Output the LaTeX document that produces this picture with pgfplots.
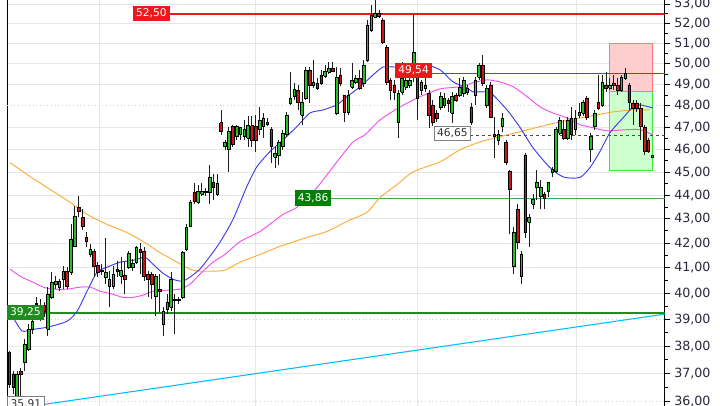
\documentclass[border=0pt]{standalone}
\usepackage{fontspec}
\setmainfont{DejaVu Sans}
\usepackage{pgfplots}
\usepackage{pgfplotstable}
\pgfplotsset{compat=1.18}

\definecolor{candleup}{RGB}{40,190,40}
\definecolor{candledown}{RGB}{200,25,25}
\definecolor{wickc}{RGB}{30,30,30}
\definecolor{gridc}{RGB}{230,230,230}
\definecolor{gridd}{RGB}{205,205,205}
\definecolor{ma1}{RGB}{60,60,235}
\definecolor{ma2}{RGB}{240,80,240}
\definecolor{ma3}{RGB}{255,170,50}
\definecolor{lvlred}{RGB}{235,25,25}
\definecolor{lvlgreen}{RGB}{30,140,30}
\definecolor{lvlgreen2}{RGB}{70,165,70}
\definecolor{boxgreen}{RGB}{0,128,0}
\definecolor{cyanline}{RGB}{0,190,250}
\definecolor{tickc}{RGB}{40,40,60}
\definecolor{tgtred}{RGB}{255,205,205}
\definecolor{tgtredb}{RGB}{255,120,120}
\definecolor{tgtgreen}{RGB}{205,255,205}
\definecolor{tgtgreenb}{RGB}{60,230,60}

% daily candles, one row per session (open high low close)
\pgfplotstableread{
o h l c
37.78 37.82 36.49 36.63
36.99 37.09 36.28 36.52
36.17 37.09 35.91 36.99
37.09 37.20 36.17 36.99
37.42 38.26 37.09 38.07
37.89 38.82 37.82 38.63
38.63 39.31 38.45 38.93
39.58 39.85 39.31 39.62
39.08 39.77 38.93 39.54
39.54 39.66 39.08 39.31
38.63 40.24 38.37 39.97
39.85 40.83 39.77 40.43
40.35 40.67 40.16 40.47
40.24 40.55 40.08 40.47
40.55 41.07 40.16 40.87
40.87 41.03 40.16 40.28
40.83 42.77 40.71 42.15
41.87 43.53 41.83 43.11
43.49 43.95 43.07 43.32
43.07 43.40 42.56 42.69
42.23 42.44 41.83 42.07
41.54 41.95 41.42 41.75
41.67 41.75 40.63 41.07
41.11 41.23 40.63 40.83
40.91 41.15 40.71 40.87
40.63 42.23 40.35 40.83
40.28 40.87 39.47 40.55
40.28 41.07 40.16 40.75
40.95 41.26 40.63 40.87
40.67 41.42 40.35 40.91
40.71 41.23 39.97 40.55
41.03 41.67 40.95 41.58
41.03 41.34 40.87 41.19
41.23 41.87 41.15 41.83
41.75 41.99 40.75 41.62
41.67 41.83 40.47 40.67
40.75 40.87 39.85 40.55
40.75 40.83 39.77 40.35
39.89 40.75 39.12 40.67
40.16 40.75 39.27 40.08
38.82 39.47 38.37 39.31
39.39 39.97 39.20 39.66
39.47 40.83 39.31 40.55
39.77 39.97 38.45 39.73
39.77 39.85 39.58 39.73
39.85 41.67 39.77 41.62
41.75 42.77 41.67 42.65
42.69 43.82 42.65 43.70
44.12 44.51 43.65 43.74
43.70 44.46 43.61 44.16
44.04 44.51 43.99 44.16
44.12 44.33 43.99 44.16
44.12 45.33 43.61 44.77
44.55 44.90 43.82 44.33
44.04 44.90 43.95 44.51
47.22 47.81 46.67 46.81
46.13 46.44 46.00 46.31
46.00 47.04 45.02 46.81
47.04 47.13 46.13 46.22
46.58 47.13 46.44 47.04
46.67 47.04 46.44 46.99
46.58 47.35 46.44 46.90
46.53 47.53 46.13 47.08
47.08 47.53 46.13 46.44
47.04 47.58 45.91 46.44
46.90 47.95 46.67 47.35
47.04 47.67 46.53 47.44
47.17 47.44 47.08 47.22
46.90 47.04 45.42 46.13
45.68 46.13 45.20 45.82
45.77 46.44 45.33 46.31
46.13 46.90 46.00 46.76
46.67 47.72 46.58 47.58
48.14 49.61 48.05 48.38
48.43 49.09 48.28 48.80
48.75 48.99 47.81 48.19
47.58 48.66 47.13 48.19
48.38 49.85 48.28 49.71
49.71 49.85 48.14 48.99
48.99 50.19 48.85 49.13
49.09 49.33 48.75 48.85
49.47 49.71 48.99 49.09
49.42 49.95 49.33 49.66
49.61 50.09 49.52 49.80
49.80 50.09 49.61 49.66
47.67 49.85 47.58 49.37
49.47 49.80 48.95 49.09
48.52 48.52 47.26 47.72
47.72 48.75 47.58 48.52
48.90 50.05 48.80 49.23
49.13 49.47 49.04 49.33
49.33 49.71 48.75 48.85
49.09 50.19 48.90 49.95
50.19 52.18 50.09 51.93
51.68 52.95 51.58 52.44
52.33 53.21 52.28 52.54
52.54 52.69 52.28 52.38
52.18 52.28 50.98 51.08
50.83 50.93 48.99 49.13
49.23 49.33 48.28 48.75
48.99 49.23 48.28 48.66
47.22 48.75 46.53 48.61
48.66 50.09 48.52 49.33
48.90 49.47 48.75 49.23
48.99 49.71 48.85 49.23
49.95 52.49 49.13 50.58
49.61 50.05 47.35 48.38
48.75 49.23 48.52 49.13
48.85 49.33 48.66 48.99
48.61 48.75 46.99 47.58
48.05 48.28 47.08 47.26
47.67 47.81 47.26 47.44
47.95 48.66 47.81 48.43
48.05 48.61 47.90 48.38
48.24 48.38 47.72 48.14
47.67 48.66 47.22 48.43
48.52 48.61 48.19 48.28
48.52 49.33 48.43 48.90
48.61 49.37 48.43 49.23
48.66 48.99 48.52 48.85
47.95 48.14 47.13 47.22
48.52 49.37 48.05 49.23
49.37 50.05 49.23 49.95
49.95 50.44 48.95 49.09
48.05 48.99 47.90 48.85
48.99 49.13 47.44 47.49
46.67 47.49 45.64 46.58
46.44 46.90 46.22 46.67
47.04 47.67 46.81 47.44
46.35 46.44 45.33 45.46
45.02 45.11 42.36 44.25
41.07 42.65 40.75 42.44
43.40 43.61 41.75 42.03
40.67 41.67 40.35 41.54
45.77 45.86 42.23 42.44
42.86 43.19 41.83 43.07
43.61 44.04 43.40 43.82
44.33 45.11 43.82 44.55
43.95 44.68 43.40 44.33
44.04 44.16 43.40 43.86
44.16 44.59 43.91 44.55
44.98 45.24 44.77 45.11
45.02 47.04 44.98 46.90
46.76 47.49 46.67 47.35
46.90 47.35 46.44 46.53
46.53 47.49 46.44 47.35
47.44 47.95 46.44 46.67
46.90 47.81 46.67 47.44
47.58 48.14 47.44 47.72
47.67 48.28 47.53 48.19
48.38 48.47 47.35 47.49
46.00 46.76 45.46 46.58
47.04 47.81 46.90 47.67
48.19 49.47 47.81 47.90
48.05 49.47 47.95 49.13
48.99 49.61 48.66 48.85
48.85 49.33 48.75 48.99
49.09 49.47 48.75 48.99
48.99 49.33 48.52 48.75
48.75 49.47 48.66 49.37
49.33 49.80 49.23 49.56
48.99 49.09 47.81 48.19
48.14 48.28 47.13 47.90
48.14 48.28 47.72 47.90
47.90 48.14 46.44 47.04
46.99 47.13 45.77 45.91
46.44 46.53 45.86 45.91
45.68 45.77 45.64 45.73
}\candles

\tikzset{
  lvlbox/.style={font=\fontsize{8}{9}\selectfont, inner sep=0pt,
    minimum width=27.5pt, minimum height=11.5pt},
}

\begin{document}
\begin{tikzpicture}
\begin{axis}[
  scale only axis,
  width=493.1pt, height=315pt,
  xmin=-0.6, xmax=170.2,
  ymode=log, ymin=35.64, ymax=53.63,
  axis line style={black, line width=0.75pt},
  xtick={23.4,64,106.1,147.4},
  xticklabels={},
  x tick style={draw=none},
  xmajorgrids, ymajorgrids,
  major grid style={gridc, line width=0.75pt},
  ytick={37,38,40,41,42,43,44,45,46,47,49,50,51,52,53},
  yticklabels={{37,00},{38,00},{40,00},{41,00},{42,00},{43,00},{44,00},{45,00},{46,00},{47,00},{49,00},{50,00},{51,00},{52,00},{53,00}},
  extra y ticks={36,39,48},
  extra y tick labels={{36,00},{39,00},{48,00}},
  extra y tick style={major grid style={gridd, dotted, line width=0.75pt}},
  minor ytick={35.5,36.5,37.5,38.5,39.5,40.5,41.5,42.5,43.5,44.5,45.5,46.5,47.5,48.5,49.5,50.5,51.5,52.5,53.5},
  ytick pos=right, yticklabel pos=right,
  tick align=outside,
  major tick length=3.75pt, minor tick length=2.25pt,
  y tick style={black, line width=0.75pt},
  yticklabel style={font=\fontsize{9.5}{11}\selectfont, text=tickc},
]

% target / stop zones
\addplot[fill=tgtred, draw=tgtredb, line width=0.75pt] coordinates {(155.8,48.67) (167.0,48.67) (167.0,51.0) (155.8,51.0) (155.8,48.67)};
\addplot[fill=tgtgreen, draw=tgtgreenb, line width=0.75pt] coordinates {(155.8,45.08) (167.0,45.08) (167.0,48.67) (155.8,48.67) (155.8,45.08)};

% horizontal levels and trend line
\addplot[lvlred, line width=1.6pt] coordinates {(41.7,52.5) (170.2,52.5)};
\addplot[lvlred, line width=0.75pt] coordinates {(109.8,49.54) (170.2,49.54)};
\addplot[lvlgreen2, line width=0.75pt] coordinates {(83.6,43.86) (170.2,43.86)};
\addplot[lvlgreen, line width=1.8pt] coordinates {(9.0,39.25) (170.2,39.25)};
\addplot[black!70, dash pattern=on 2.25pt off 2.25pt, line width=0.75pt] coordinates {(119.7,46.65) (170.2,46.65)};
\addplot[cyanline, line width=0.8pt] coordinates {(9.3,35.91) (170.2,39.2)};

% moving averages
\addplot[ma3, line width=0.7pt, smooth, tension=0.4] coordinates {
(0.2,45.42) (5.4,44.81) (10.6,44.25) (15.8,43.70) (20.2,43.19) (25.4,42.77) (30.5,42.44) (34.7,42.07) (39.1,41.62) (43.6,41.23) (46.9,40.95) (49.5,40.87) (52.9,40.87) (56.0,40.91) (60.0,41.23) (65.1,41.54) (70.3,41.87) (77.3,42.23) (82.5,42.48) (87.7,42.90) (92.9,43.28) (96.3,43.91) (100.7,44.46) (104.9,45.02) (111.9,45.46) (117.1,46.00) (122.3,46.35) (127.4,46.58) (132.7,46.81) (137.9,47.04) (143.0,47.26) (148.2,47.44) (152.7,47.58) (156.8,47.72) (162.0,47.81) (166.4,47.81)};
\addplot[ma2, line width=0.7pt, smooth, tension=0.4] coordinates {
(0.2,40.95) (2.8,40.67) (6.2,40.43) (8.8,40.24) (11.4,40.16) (15.0,40.16) (18.4,40.24) (21.0,40.24) (23.6,40.08) (26.9,39.97) (29.5,39.85) (32.1,39.85) (34.7,39.93) (37.3,40.08) (41.0,40.12) (44.3,40.16) (46.9,40.35) (49.5,40.75) (52.9,41.23) (56.0,41.54) (60.0,42.07) (65.1,42.48) (71.1,43.19) (74.7,43.49) (79.9,44.33) (85.1,45.46) (89.3,46.35) (92.4,46.67) (96.3,47.35) (101.5,47.95) (106.7,48.43) (111.9,48.80) (117.1,48.90) (120.4,49.09) (124.1,49.23) (127.4,49.13) (130.9,48.90) (134.5,48.43) (137.9,47.95) (141.2,47.67) (144.9,47.44) (148.2,47.13) (151.6,46.99) (155.2,46.85) (160.4,46.90) (163.8,46.90) (167.2,46.67)};
\addplot[ma1, line width=0.7pt, smooth, tension=0.4] coordinates {
(1.0,39.08) (3.3,38.56) (6.2,38.63) (10.1,38.71) (15.0,38.93) (17.6,39.31) (20.2,40.08) (22.8,40.83) (25.4,41.03) (28.8,41.23) (32.1,41.30) (35.3,41.42) (37.3,41.15) (39.9,40.79) (42.5,40.55) (44.9,40.47) (46.9,40.63) (49.5,40.95) (52.1,41.46) (54.7,42.03) (58.1,42.98) (61.7,44.38) (64.3,45.24) (67.7,45.91) (71.1,46.44) (74.7,47.04) (78.1,47.67) (81.5,47.81) (85.1,48.05) (87.7,48.43) (91.1,48.90) (94.5,49.47) (97.1,49.85) (100.7,49.85) (104.1,49.95) (108.5,49.95) (111.9,49.71) (115.3,49.13) (118.9,48.85) (120.4,48.66) (124.1,48.66) (125.6,48.52) (129.3,47.81) (132.7,46.99) (136.0,46.09) (139.7,45.33) (141.7,45.02) (144.3,44.77) (148.2,44.77) (150.8,45.20) (153.4,45.91) (156.0,46.76) (159.4,47.44) (162.0,47.95) (163.8,48.05) (167.2,47.90)};

% candles
\pgfplotstablegetrowsof{\candles}
\pgfmathtruncatemacro{\lastrow}{\pgfplotsretval-1}
\pgfplotsforeachungrouped \r in {0,...,\lastrow}{%
  \pgfplotstablegetelem{\r}{o}\of\candles\let\co\pgfplotsretval
  \pgfplotstablegetelem{\r}{h}\of\candles\let\ch\pgfplotsretval
  \pgfplotstablegetelem{\r}{l}\of\candles\let\cl\pgfplotsretval
  \pgfplotstablegetelem{\r}{c}\of\candles\let\cc\pgfplotsretval
  \pgfmathsetmacro{\xa}{\r-0.34}%
  \pgfmathsetmacro{\xb}{\r+0.34}%
  \pgfmathtruncatemacro{\up}{\cc>=\co}%
  \ifnum\up=1 \def\bcol{candleup}\else\def\bcol{candledown}\fi
  \edef\doit{%
    \noexpand\addplot[wickc, line width=0.6pt] coordinates {(\r,\cl) (\r,\ch)};
    \noexpand\addplot[draw=black, fill=\bcol, line width=0.4pt] coordinates {(\xa,\co) (\xb,\co) (\xb,\cc) (\xa,\cc) (\xa,\co)};
  }%
  \doit
}

% level labels
\node[lvlbox, fill=lvlred, text=white] at (axis cs:36.9,52.52) {52,50};
\node[lvlbox, fill=lvlred, text=white] at (axis cs:105.0,49.68) {49,54};
\node[lvlbox, fill=boxgreen, text=white] at (axis cs:78.9,43.88) {43,86};
\node[lvlbox, fill=lvlgreen, text=white] at (axis cs:4.2,39.26) {39,25};
\node[lvlbox, fill=white, draw=gray, line width=0.6pt, text=black!80, minimum height=10.5pt] at (axis cs:115.1,46.74) {46,65};
\node[lvlbox, fill=white, draw=gray, line width=0.6pt, text=black!80] at (axis cs:4.3,35.92) {35,91};

\coordinate (bbTL) at (axis cs:-2.42,53.21);
\coordinate (bbBR) at (axis cs:184.6,35.88);
\end{axis}
\pgfresetboundingbox
\path[use as bounding box] (bbTL) rectangle (bbBR);
\end{tikzpicture}
\end{document}
